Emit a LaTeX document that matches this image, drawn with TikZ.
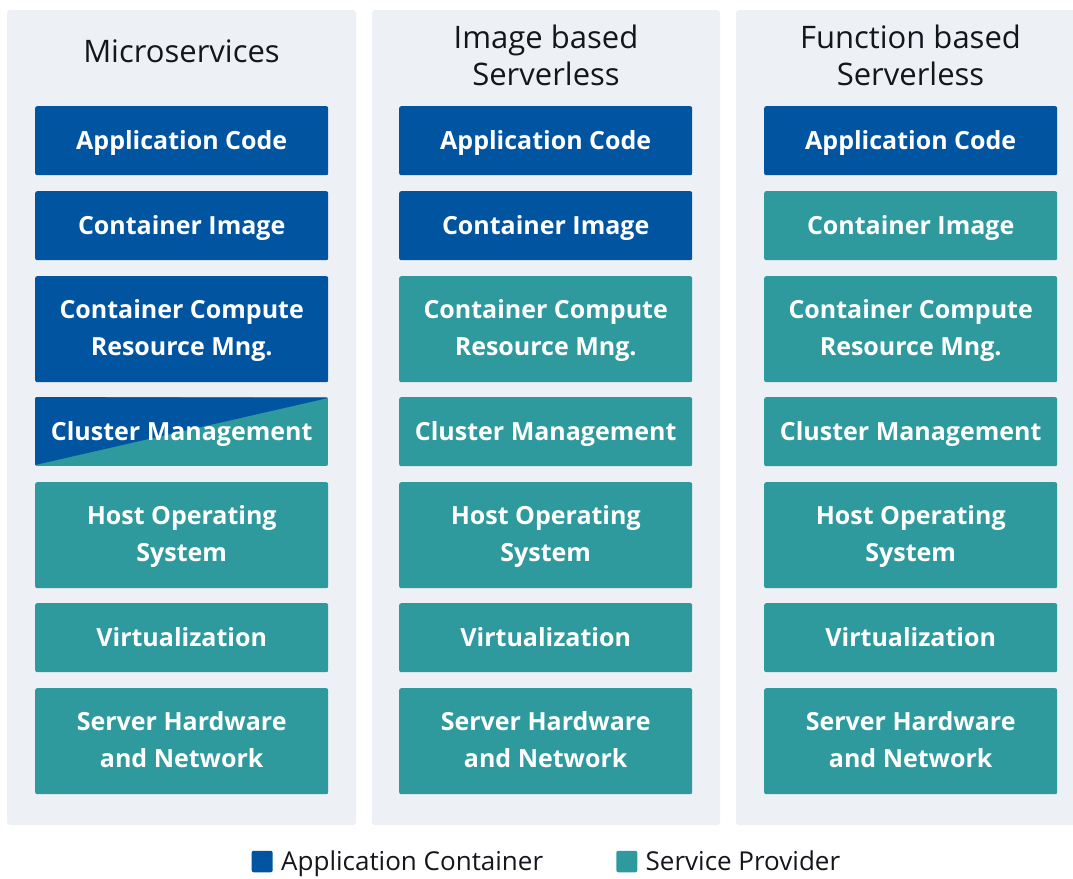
\documentclass[tikz,border=0pt]{standalone}
\usepackage{fontspec}
\setmainfont{Open Sans}
\definecolor{acblue}{HTML}{0054A0}
\definecolor{spteal}{HTML}{2E9A9E}
\definecolor{panelbg}{HTML}{EDF1F5}
\definecolor{txtdark}{HTML}{15151C}
\begin{document}
\begin{tikzpicture}[x=1pt,y=-1pt,
  panel/.style={fill=panelbg,draw=none,rounded corners=3pt},
  layer/.style={draw=none,rounded corners=2pt,minimum width=293pt,inner sep=0pt,anchor=north west},
  onerow/.style={layer,minimum height=69pt},
  tworow/.style={layer,minimum height=106pt},
  ac/.style={fill=acblue},
  sp/.style={fill=spteal},
  lbl/.style={text=white,align=center,anchor=base,inner sep=0pt,
    font=\fontsize{25}{36.3}\selectfont\bfseries},
  title/.style={font=\fontsize{31}{37}\selectfont,text=txtdark,align=center,anchor=base,inner sep=0pt},
  legtext/.style={font=\fontsize{26}{30}\selectfont,text=txtdark,anchor=base west,inner sep=0pt},
  legsq/.style={rounded corners=2pt,minimum width=21pt,minimum height=21.5pt,inner sep=0pt,draw=none}
]
\useasboundingbox (0,0) rectangle (1073,878);
\fill[white] (0,0) rectangle (1073,878);
% panels
\fill[panel] (7,10) rectangle (356,825);
\fill[panel] (372,10) rectangle (720,825);
\fill[panel] (736,10) rectangle (1085,825);
% titles (anchor = baseline of last line)
\node[title] (t1) at (181.5,62.5) {Microservices};
\node[title] (t2) at (546,85) {Image based\\Serverless};
\node[title] (t3) at (910.5,85) {Function based\\Serverless};
% column 1
\node[onerow,ac] (a1) at (35,106) {};
\node[onerow,ac] (a2) at (35,191) {};
\node[tworow,ac] (a3) at (35,276) {};
\begin{scope}
  \clip[rounded corners=2pt] (35,397) rectangle (328,466);
  \fill[spteal] (35,397) rectangle (328,466);
  \fill[acblue] (35,465) -- (328,398) -- (35,397) -- cycle;
\end{scope}
\node[onerow,fill=none] (a4) at (35,397) {};
\node[tworow,sp] (a5) at (35,482) {};
\node[onerow,sp] (a6) at (35,603) {};
\node[tworow,sp] (a7) at (35,688) {};
% column 2
\node[onerow,ac] (b1) at (399,106) {};
\node[onerow,ac] (b2) at (399,191) {};
\node[tworow,sp] (b3) at (399,276) {};
\node[onerow,sp] (b4) at (399,397) {};
\node[tworow,sp] (b5) at (399,482) {};
\node[onerow,sp] (b6) at (399,603) {};
\node[tworow,sp] (b7) at (399,688) {};
% column 3
\node[onerow,ac] (c1) at (764,106) {};
\node[onerow,sp] (c2) at (764,191) {};
\node[tworow,sp] (c3) at (764,276) {};
\node[onerow,sp] (c4) at (764,397) {};
\node[tworow,sp] (c5) at (764,482) {};
\node[onerow,sp] (c6) at (764,603) {};
\node[tworow,sp] (c7) at (764,688) {};
% labels (anchor = baseline of last line)
\foreach \col in {a,b,c}{
  \node[lbl] (\col1t) at ([yshift=-8.5pt]\col1.center) {Application Code};
  \node[lbl] (\col2t) at ([yshift=-8.5pt]\col2.center) {Container Image};
  \node[lbl] (\col3t) at ([yshift=-25.8pt]\col3.center) {Container Compute\\Resource Mng.};
  \node[lbl] (\col4t) at ([yshift=-8.5pt]\col4.center) {Cluster Management};
  \node[lbl] (\col5t) at ([yshift=-25.8pt]\col5.center) {Host Operating\\System};
  \node[lbl] (\col6t) at ([yshift=-8.5pt]\col6.center) {Virtualization};
  \node[lbl] (\col7t) at ([yshift=-25.8pt]\col7.center) {Server Hardware\\and Network};
}
% legend
\node[legsq,fill=acblue] (l1) at (262.2,861.5) {};
\node[legtext] (l1t) at (281,870.7) {Application Container};
\node[legsq,fill=spteal] (l2) at (626.8,861.5) {};
\node[legtext] (l2t) at (645.5,870.7) {Service Provider};
\end{tikzpicture}
\end{document}
